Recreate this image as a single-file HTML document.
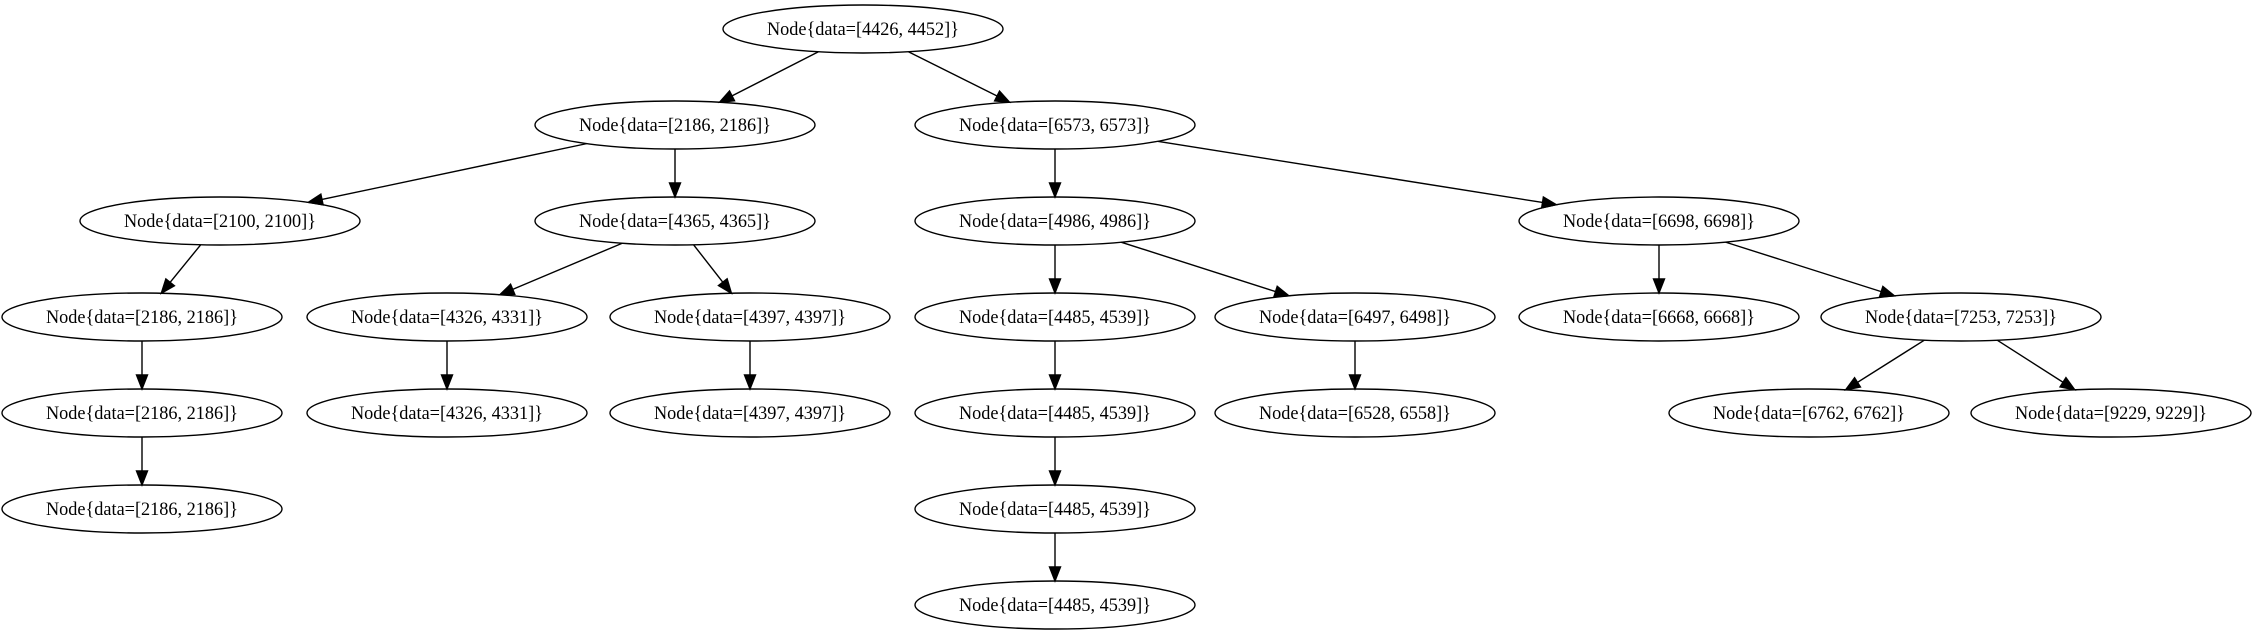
<!DOCTYPE html>
<html><head><meta charset="utf-8"><style>html,body{margin:0;padding:0;background:#fff}svg{display:block}</style></head>
<body>
<svg id="g" width="2256" height="635" viewBox="0 0 2256 635" xmlns="http://www.w3.org/2000/svg">
<g id="edges" stroke="#000" stroke-width="1.4" fill="#000"></g>
<g fill="none" stroke="#000" stroke-width="1.4">
<ellipse cx="863" cy="29" rx="140" ry="24"/>
<ellipse cx="675" cy="125" rx="140" ry="24"/>
<ellipse cx="1055" cy="125" rx="140" ry="24"/>
<ellipse cx="220" cy="221" rx="140" ry="24"/>
<ellipse cx="675" cy="221" rx="140" ry="24"/>
<ellipse cx="1055" cy="221" rx="140" ry="24"/>
<ellipse cx="1659" cy="221" rx="140" ry="24"/>
<ellipse cx="142" cy="317" rx="140" ry="24"/>
<ellipse cx="447" cy="317" rx="140" ry="24"/>
<ellipse cx="750" cy="317" rx="140" ry="24"/>
<ellipse cx="1055" cy="317" rx="140" ry="24"/>
<ellipse cx="1355" cy="317" rx="140" ry="24"/>
<ellipse cx="1659" cy="317" rx="140" ry="24"/>
<ellipse cx="1961" cy="317" rx="140" ry="24"/>
<ellipse cx="142" cy="413" rx="140" ry="24"/>
<ellipse cx="447" cy="413" rx="140" ry="24"/>
<ellipse cx="750" cy="413" rx="140" ry="24"/>
<ellipse cx="1055" cy="413" rx="140" ry="24"/>
<ellipse cx="1355" cy="413" rx="140" ry="24"/>
<ellipse cx="1809" cy="413" rx="140" ry="24"/>
<ellipse cx="2111" cy="413" rx="140" ry="24"/>
<ellipse cx="142" cy="509" rx="140" ry="24"/>
<ellipse cx="1055" cy="509" rx="140" ry="24"/>
<ellipse cx="1055" cy="605" rx="140" ry="24"/>
</g>
<g font-family="'Liberation Serif', serif" font-size="19" text-anchor="middle" fill="#000" lengthAdjust="spacingAndGlyphs">
<text x="863" y="35" textLength="192" lengthAdjust="spacingAndGlyphs">Node{data=[4426, 4452]}</text>
<text x="675" y="131" textLength="192" lengthAdjust="spacingAndGlyphs">Node{data=[2186, 2186]}</text>
<text x="1055" y="131" textLength="192" lengthAdjust="spacingAndGlyphs">Node{data=[6573, 6573]}</text>
<text x="220" y="227" textLength="192" lengthAdjust="spacingAndGlyphs">Node{data=[2100, 2100]}</text>
<text x="675" y="227" textLength="192" lengthAdjust="spacingAndGlyphs">Node{data=[4365, 4365]}</text>
<text x="1055" y="227" textLength="192" lengthAdjust="spacingAndGlyphs">Node{data=[4986, 4986]}</text>
<text x="1659" y="227" textLength="192" lengthAdjust="spacingAndGlyphs">Node{data=[6698, 6698]}</text>
<text x="142" y="323" textLength="192" lengthAdjust="spacingAndGlyphs">Node{data=[2186, 2186]}</text>
<text x="447" y="323" textLength="192" lengthAdjust="spacingAndGlyphs">Node{data=[4326, 4331]}</text>
<text x="750" y="323" textLength="192" lengthAdjust="spacingAndGlyphs">Node{data=[4397, 4397]}</text>
<text x="1055" y="323" textLength="192" lengthAdjust="spacingAndGlyphs">Node{data=[4485, 4539]}</text>
<text x="1355" y="323" textLength="192" lengthAdjust="spacingAndGlyphs">Node{data=[6497, 6498]}</text>
<text x="1659" y="323" textLength="192" lengthAdjust="spacingAndGlyphs">Node{data=[6668, 6668]}</text>
<text x="1961" y="323" textLength="192" lengthAdjust="spacingAndGlyphs">Node{data=[7253, 7253]}</text>
<text x="142" y="419" textLength="192" lengthAdjust="spacingAndGlyphs">Node{data=[2186, 2186]}</text>
<text x="447" y="419" textLength="192" lengthAdjust="spacingAndGlyphs">Node{data=[4326, 4331]}</text>
<text x="750" y="419" textLength="192" lengthAdjust="spacingAndGlyphs">Node{data=[4397, 4397]}</text>
<text x="1055" y="419" textLength="192" lengthAdjust="spacingAndGlyphs">Node{data=[4485, 4539]}</text>
<text x="1355" y="419" textLength="192" lengthAdjust="spacingAndGlyphs">Node{data=[6528, 6558]}</text>
<text x="1809" y="419" textLength="192" lengthAdjust="spacingAndGlyphs">Node{data=[6762, 6762]}</text>
<text x="2111" y="419" textLength="192" lengthAdjust="spacingAndGlyphs">Node{data=[9229, 9229]}</text>
<text x="142" y="515" textLength="192" lengthAdjust="spacingAndGlyphs">Node{data=[2186, 2186]}</text>
<text x="1055" y="515" textLength="192" lengthAdjust="spacingAndGlyphs">Node{data=[4485, 4539]}</text>
<text x="1055" y="611" textLength="192" lengthAdjust="spacingAndGlyphs">Node{data=[4485, 4539]}</text>
</g>
</svg>
<script>
var E=[[863,29,675,125],[863,29,1055,125],[675,125,220,221],[675,125,675,221],[1055,125,1055,221],[1055,125,1659,221],
[220,221,142,317],[675,221,447,317],[675,221,750,317],[1055,221,1055,317],[1055,221,1355,317],[1659,221,1659,317],[1659,221,1961,317],
[142,317,142,413],[447,317,447,413],[750,317,750,413],[1055,317,1055,413],[1355,317,1355,413],[1961,317,1809,413],[1961,317,2111,413],
[142,413,142,509],[1055,413,1055,509],[1055,509,1055,605]];
var rx=140,ry=24,g=document.getElementById('edges'),ns='http://www.w3.org/2000/svg',h='';
function clip(cx,cy,dx,dy){var t=1/Math.sqrt(dx*dx/(rx*rx)+dy*dy/(ry*ry));return [cx+dx*t,cy+dy*t];}
E.forEach(function(e){var dx=e[2]-e[0],dy=e[3]-e[1];
var a=clip(e[0],e[1],dx,dy),b=clip(e[2],e[3],-dx,-dy);
var L=Math.hypot(b[0]-a[0],b[1]-a[1]),ux=(b[0]-a[0])/L,uy=(b[1]-a[1])/L,al=14,aw=5.5;
var bx=b[0]-ux*al,by=b[1]-uy*al;
h+='<line x1="'+a[0]+'" y1="'+a[1]+'" x2="'+bx+'" y2="'+by+'"/>';
h+='<polygon points="'+b[0]+','+b[1]+' '+(bx-uy*aw)+','+(by+ux*aw)+' '+(bx+uy*aw)+','+(by-ux*aw)+'"/>';});
g.innerHTML=h;
</script>
</body></html>
